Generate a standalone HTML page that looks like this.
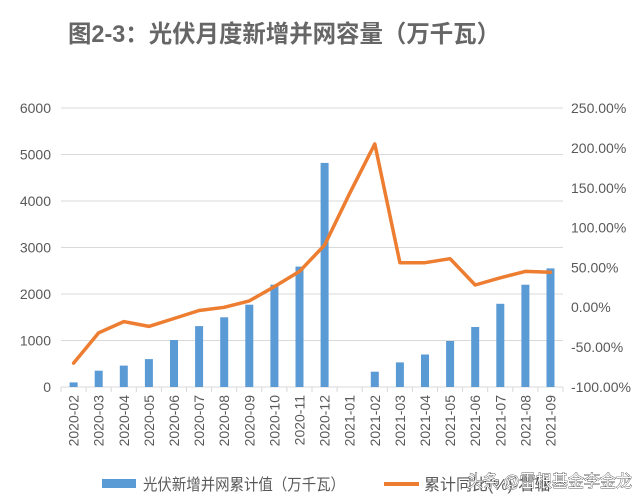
<!DOCTYPE html>
<html><head><meta charset="utf-8"><style>
html,body{margin:0;padding:0;background:#fff;}
svg{display:block;font-family:"Liberation Sans","Noto Sans CJK SC",sans-serif;}
</style></head><body>
<svg width="640" height="499" viewBox="0 0 640 499" xmlns="http://www.w3.org/2000/svg">
<text x="68" y="42" font-size="24" font-weight="bold" fill="#666" textLength="432" lengthAdjust="spacingAndGlyphs" font-family="'Liberation Sans','Noto Sans CJK SC',sans-serif">图2-3：光伏月度新增并网容量（万千瓦）</text>
<g stroke="#d9d9d9" stroke-width="1">
<line x1="61" y1="108" x2="563" y2="108"/>
<line x1="61" y1="154.5" x2="563" y2="154.5"/>
<line x1="61" y1="201" x2="563" y2="201"/>
<line x1="61" y1="247.5" x2="563" y2="247.5"/>
<line x1="61" y1="294" x2="563" y2="294"/>
<line x1="61" y1="340.5" x2="563" y2="340.5"/>
<line x1="61" y1="387" x2="563" y2="387"/>
</g>
<g stroke="#d9d9d9" stroke-width="1">
<line x1="61" y1="387" x2="61" y2="392"/><line x1="86.1" y1="387" x2="86.1" y2="392"/><line x1="111.2" y1="387" x2="111.2" y2="392"/><line x1="136.3" y1="387" x2="136.3" y2="392"/><line x1="161.4" y1="387" x2="161.4" y2="392"/><line x1="186.5" y1="387" x2="186.5" y2="392"/><line x1="211.6" y1="387" x2="211.6" y2="392"/><line x1="236.7" y1="387" x2="236.7" y2="392"/><line x1="261.8" y1="387" x2="261.8" y2="392"/><line x1="286.9" y1="387" x2="286.9" y2="392"/><line x1="312" y1="387" x2="312" y2="392"/><line x1="337.1" y1="387" x2="337.1" y2="392"/><line x1="362.2" y1="387" x2="362.2" y2="392"/><line x1="387.3" y1="387" x2="387.3" y2="392"/><line x1="412.4" y1="387" x2="412.4" y2="392"/><line x1="437.5" y1="387" x2="437.5" y2="392"/><line x1="462.6" y1="387" x2="462.6" y2="392"/><line x1="487.7" y1="387" x2="487.7" y2="392"/><line x1="512.8" y1="387" x2="512.8" y2="392"/><line x1="537.9" y1="387" x2="537.9" y2="392"/><line x1="563" y1="387" x2="563" y2="392"/>
</g>
<g fill="#595959" font-size="14" text-anchor="end">
<text x="51" y="113">6000</text><text x="51" y="159.5">5000</text><text x="51" y="206">4000</text><text x="51" y="252.5">3000</text><text x="51" y="299">2000</text><text x="51" y="345.5">1000</text><text x="51" y="392">0</text>
</g>
<g fill="#595959" font-size="14" text-anchor="start">
<text x="571" y="113">250.00%</text><text x="571" y="153">200.00%</text><text x="571" y="193">150.00%</text><text x="571" y="232.5">100.00%</text><text x="571" y="272.5">50.00%</text><text x="571" y="312">0.00%</text><text x="571" y="352">-50.00%</text><text x="571" y="392">-100.00%</text>
</g>
<g fill="#5b9bd5">
<rect x="69.6" y="382.4" width="8" height="4.6"/>
<rect x="94.7" y="370.7" width="8" height="16.3"/>
<rect x="119.8" y="365.6" width="8" height="21.4"/>
<rect x="144.9" y="359.1" width="8" height="27.9"/>
<rect x="170" y="340" width="8" height="47"/>
<rect x="195.1" y="326.1" width="8" height="60.9"/>
<rect x="220.2" y="317.3" width="8" height="69.7"/>
<rect x="245.3" y="304.7" width="8" height="82.3"/>
<rect x="270.4" y="284.7" width="8" height="102.3"/>
<rect x="295.5" y="266.6" width="8" height="120.4"/>
<rect x="320.6" y="162.9" width="8" height="224.1"/>
<rect x="370.8" y="371.7" width="8" height="15.3"/>
<rect x="395.9" y="362.4" width="8" height="24.6"/>
<rect x="421" y="354.5" width="8" height="32.5"/>
<rect x="446.1" y="341" width="8" height="46"/>
<rect x="471.2" y="327" width="8" height="60"/>
<rect x="496.3" y="303.8" width="8" height="83.2"/>
<rect x="521.4" y="284.7" width="8" height="102.3"/>
<rect x="546.5" y="268.4" width="8" height="118.6"/>
</g>
<polyline fill="none" stroke="#ed7d31" stroke-width="3.5" stroke-linejoin="round" stroke-linecap="round" points="73.6,363.1 98.7,332.8 123.8,321.6 148.9,326.4 174,318.5 199.1,310.5 224.2,307.3 249.3,300.9 274.4,286.6 299.5,271.4 324.6,245.1 349.7,193.3 374.8,143.9 399.9,262.7 425,262.7 450.1,258.7 475.2,285 500.3,277.8 525.4,271.4 550.5,272.2"/>
<g fill="#595959" font-size="14" text-anchor="end">
<text transform="translate(78.6,395) rotate(-90)">2020-02</text>
<text transform="translate(103.7,395) rotate(-90)">2020-03</text>
<text transform="translate(128.8,395) rotate(-90)">2020-04</text>
<text transform="translate(153.9,395) rotate(-90)">2020-05</text>
<text transform="translate(179,395) rotate(-90)">2020-06</text>
<text transform="translate(204.1,395) rotate(-90)">2020-07</text>
<text transform="translate(229.2,395) rotate(-90)">2020-08</text>
<text transform="translate(254.3,395) rotate(-90)">2020-09</text>
<text transform="translate(279.4,395) rotate(-90)">2020-10</text>
<text transform="translate(304.5,395) rotate(-90)">2020-11</text>
<text transform="translate(329.6,395) rotate(-90)">2020-12</text>
<text transform="translate(354.7,395) rotate(-90)">2021-01</text>
<text transform="translate(379.8,395) rotate(-90)">2021-02</text>
<text transform="translate(404.9,395) rotate(-90)">2021-03</text>
<text transform="translate(430,395) rotate(-90)">2021-04</text>
<text transform="translate(455.1,395) rotate(-90)">2021-05</text>
<text transform="translate(480.2,395) rotate(-90)">2021-06</text>
<text transform="translate(505.3,395) rotate(-90)">2021-07</text>
<text transform="translate(530.4,395) rotate(-90)">2021-08</text>
<text transform="translate(555.5,395) rotate(-90)">2021-09</text>
</g>
<rect x="102" y="479" width="34" height="9" fill="#5b9bd5"/>
<text x="143" y="490" font-size="16" fill="#595959" textLength="202" lengthAdjust="spacingAndGlyphs" font-family="'Liberation Sans','Noto Sans CJK SC',sans-serif">光伏新增并网累计值（万千瓦）</text>
<line x1="384" y1="484" x2="419" y2="484" stroke="#ed7d31" stroke-width="4"/>
<text x="424" y="490" font-size="16" fill="#595959" font-family="'Liberation Sans','Noto Sans CJK SC',sans-serif">累计同比(%)-右轴</text>
<text x="467" y="487" font-size="17" fill="#fff" stroke="#222" stroke-width="0.7" paint-order="stroke" textLength="165" lengthAdjust="spacingAndGlyphs" font-family="'Liberation Sans','Noto Sans CJK SC',sans-serif">头条 @雷根基金李金龙</text>
</svg>
</body></html>
